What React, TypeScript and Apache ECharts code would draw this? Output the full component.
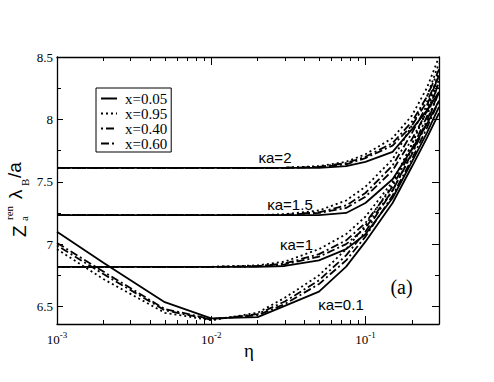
import React, { useEffect, useRef } from "react";
import * as echarts from "echarts";

// ---- data ----
const ETA = [0.001, 0.002, 0.005, 0.01, 0.02, 0.03, 0.05, 0.075, 0.1, 0.15, 0.2, 0.25, 0.3];

// κa = 0.1
const K01_X005 = [7.10, 6.85, 6.535, 6.405, 6.415, 6.505, 6.62, 6.82, 7.02, 7.33, 7.62, 7.85, 8.05];
const K01_X095 = [6.96, 6.72, 6.45, 6.39, 6.45, 6.57, 6.75, 6.96, 7.15, 7.48, 7.80, 8.07, 8.32];
const K01_X040 = [6.99, 6.76, 6.47, 6.395, 6.44, 6.54, 6.71, 6.91, 7.10, 7.43, 7.73, 7.99, 8.22];
const K01_X060 = [7.01, 6.78, 6.48, 6.40, 6.43, 6.52, 6.68, 6.87, 7.06, 7.39, 7.68, 7.93, 8.15];
// κa = 1
const K1_X005 = [6.818, 6.818, 6.818, 6.818, 6.818, 6.825, 6.87, 6.96, 7.08, 7.37, 7.66, 7.89, 8.10];
const K1_X095 = [6.818, 6.818, 6.818, 6.818, 6.83, 6.86, 6.96, 7.08, 7.22, 7.50, 7.80, 8.08, 8.38];
const K1_X040 = [6.818, 6.818, 6.818, 6.818, 6.824, 6.845, 6.92, 7.03, 7.17, 7.46, 7.76, 8.02, 8.30];
const K1_X060 = [6.818, 6.818, 6.818, 6.818, 6.822, 6.838, 6.90, 7.00, 7.13, 7.43, 7.72, 7.97, 8.22];
// κa = 1.5
const K15_X005 = [7.233, 7.233, 7.233, 7.233, 7.233, 7.233, 7.233, 7.25, 7.33, 7.52, 7.76, 7.96, 8.15];
const K15_X095 = [7.233, 7.233, 7.233, 7.233, 7.233, 7.24, 7.27, 7.35, 7.46, 7.68, 7.95, 8.18, 8.45];
const K15_X040 = [7.233, 7.233, 7.233, 7.233, 7.233, 7.236, 7.255, 7.31, 7.41, 7.63, 7.89, 8.11, 8.35];
const K15_X060 = [7.233, 7.233, 7.233, 7.233, 7.233, 7.235, 7.25, 7.29, 7.38, 7.59, 7.84, 8.06, 8.28];
// κa = 2
const K2_X005 = [7.612, 7.612, 7.612, 7.612, 7.612, 7.612, 7.612, 7.625, 7.66, 7.74, 7.92, 8.07, 8.22];
const K2_X095 = [7.612, 7.612, 7.612, 7.612, 7.612, 7.612, 7.625, 7.66, 7.72, 7.85, 8.03, 8.25, 8.50];
const K2_X040 = [7.612, 7.612, 7.612, 7.612, 7.612, 7.612, 7.62, 7.65, 7.70, 7.81, 7.98, 8.18, 8.40];
const K2_X060 = [7.612, 7.612, 7.612, 7.612, 7.612, 7.612, 7.618, 7.64, 7.69, 7.79, 7.95, 8.14, 8.35];

const X_NAMES = ["x=0.05", "x=0.95", "x=0.40", "x=0.60"];
const KA_LABELS = ["κa=2", "κa=1.5", "κa=1", "κa=0.1"];

const X_MAJOR = [0.001, 0.01, 0.1];
const X_MINOR = [0.002, 0.003, 0.004, 0.005, 0.006, 0.007, 0.008, 0.009, 0.02, 0.03, 0.04, 0.05, 0.06, 0.07, 0.08, 0.09, 0.2];
const Y_MAJOR = [6.5, 7, 7.5, 8, 8.5];
const Y_MINOR = [6.75, 7.25, 7.75, 8.25];

const SERIF = "Liberation Serif, DejaVu Serif, serif";
const SANS = "Liberation Sans, Arial, sans-serif";

const DASH: Record<string, any> = {
  "x=0.05": "solid",
  "x=0.95": [2, 3],
  "x=0.40": [2, 3, 8, 3],
  "x=0.60": [8, 3, 2, 3],
};

const FAMILIES: Array<[string, number[]][]> = [
  [["x=0.05", K01_X005], ["x=0.95", K01_X095], ["x=0.40", K01_X040], ["x=0.60", K01_X060]],
  [["x=0.05", K1_X005], ["x=0.95", K1_X095], ["x=0.40", K1_X040], ["x=0.60", K1_X060]],
  [["x=0.05", K15_X005], ["x=0.95", K15_X095], ["x=0.40", K15_X040], ["x=0.60", K15_X060]],
  [["x=0.05", K2_X005], ["x=0.95", K2_X095], ["x=0.40", K2_X040], ["x=0.60", K2_X060]],
];

function buildSeries() {
  const out: any[] = [];
  for (const fam of FAMILIES) {
    for (const [name, vals] of fam) {
      out.push({
        type: "line",
        name,
        xAxisIndex: 0,
        yAxisIndex: 0,
        symbol: "none",
        showSymbol: false,
        smooth: false,
        data: ETA.map((e, i) => [e, vals[i]]),
        lineStyle: { color: "#000", width: 1.8, type: DASH[name] },
        itemStyle: { color: "#000" },
      });
    }
  }
  return out;
}

function xAxisDef(position: "bottom" | "top", values: number[], len: number, showLine: boolean, showLabel: boolean) {
  return {
    type: "log",
    logBase: 10,
    min: 0.001,
    max: 0.3,
    position,
    axisLine: { show: showLine, onZero: false, lineStyle: { color: "#000", width: 1.3 } },
    axisTick: { show: true, inside: true, length: len, customValues: values, lineStyle: { color: "#000", width: 1 } },
    axisLabel: showLabel
      ? {
          show: true,
          customValues: values,
          margin: 6,
          fontFamily: SERIF,
          formatter: (v: number) => "{b|10}{sup|" + Math.round(Math.log10(v)) + "}",
          rich: {
            b: { fontFamily: SERIF, fontSize: 13, color: "#000", lineHeight: 13, padding: [6, 0, 0, 0] },
            sup: { fontFamily: SERIF, fontSize: 9, color: "#000", lineHeight: 9, verticalAlign: "top" },
          },
        }
      : { show: false },
    splitLine: { show: false },
    minorTick: { show: false },
    minorSplitLine: { show: false },
  };
}

function yAxisDef(position: "left" | "right", values: number[], len: number, showLine: boolean, showLabel: boolean) {
  return {
    type: "value",
    min: 6.36,
    max: 8.5,
    position,
    axisLine: { show: showLine, onZero: false, lineStyle: { color: "#000", width: 1.3 } },
    axisTick: { show: true, inside: true, length: len, customValues: values, lineStyle: { color: "#000", width: 1 } },
    axisLabel: showLabel
      ? {
          show: true,
          customValues: values,
          margin: 4,
          fontFamily: SERIF,
          fontSize: 13,
          color: "#000",
          formatter: (v: number) => String(v),
        }
      : { show: false },
    splitLine: { show: false },
    minorTick: { show: false },
    minorSplitLine: { show: false },
  };
}

export default function App() {
  const ref = useRef<HTMLDivElement>(null);
  useEffect(() => {
    if (!ref.current) return;
    const chart = echarts.init(ref.current, undefined, { renderer: "svg" });
    const ylabelFont = "19px " + SANS;
    const subFont = "11px " + SERIF;
    chart.setOption({
      animation: false,
      backgroundColor: "#fff",
      grid: { left: 57, right: 55, top: 57, bottom: 58, containLabel: false },
      legend: {
        show: true,
        orient: "vertical",
        left: 96,
        top: 88,
        data: X_NAMES,
        selectedMode: false,
        itemWidth: 16,
        itemHeight: 10,
        itemGap: 0,
        padding: [3, 4, 1, 4],
        borderColor: "#000",
        borderWidth: 1,
        itemStyle: { color: "rgba(0,0,0,0)", borderColor: "rgba(0,0,0,0)", borderWidth: 0, opacity: 0 },
        textStyle: { fontFamily: SERIF, fontSize: 15, color: "#000", lineHeight: 15, padding: [0, 0, 0, 3] },
      },
      xAxis: [
        xAxisDef("bottom", X_MAJOR, 8, true, true),
        xAxisDef("bottom", X_MINOR, 4, false, false),
        xAxisDef("top", X_MAJOR, 8, true, false),
        xAxisDef("top", X_MINOR, 4, false, false),
      ],
      yAxis: [
        yAxisDef("left", Y_MAJOR, 6, true, true),
        yAxisDef("left", Y_MINOR, 4, false, false),
        yAxisDef("right", Y_MAJOR, 7, true, false),
        yAxisDef("right", Y_MINOR, 4, false, false),
      ],
      series: buildSeries(),
      graphic: [
        {
          type: "group",
          x: 26,
          y: 237,
          rotation: Math.PI / 2,
          children: [
            { type: "text", x: 0, y: -6.5, style: { text: "Z", font: ylabelFont, fill: "#000", align: "left", verticalAlign: "middle" } },
            { type: "text", x: 17, y: -17.5, style: { text: "ren", font: subFont, fill: "#000", align: "left", verticalAlign: "middle" } },
            { type: "text", x: 16, y: -2, style: { text: "a", font: subFont, fill: "#000", align: "left", verticalAlign: "middle" } },
            { type: "text", x: 38, y: -11, style: { text: "λ", font: ylabelFont, fill: "#000", align: "left", verticalAlign: "middle" } },
            { type: "text", x: 51, y: -1.5, style: { text: "B", font: subFont, fill: "#000", align: "left", verticalAlign: "middle" } },
            { type: "text", x: 59, y: -12, style: { text: "/a", font: ylabelFont, fill: "#000", align: "left", verticalAlign: "middle" } },
          ],
        },
        { type: "text", x: 249, y: 350, style: { text: "η", font: "19px " + SERIF, fill: "#000", align: "center", verticalAlign: "middle" } },
        { type: "text", x: 275, y: 157.5, style: { text: KA_LABELS[0], font: "15px " + SANS, fill: "#000", align: "center", verticalAlign: "middle" } },
        { type: "text", x: 290, y: 204, style: { text: KA_LABELS[1], font: "15px " + SANS, fill: "#000", align: "center", verticalAlign: "middle" } },
        { type: "text", x: 296.5, y: 244, style: { text: KA_LABELS[2], font: "15px " + SANS, fill: "#000", align: "center", verticalAlign: "middle" } },
        { type: "text", x: 341, y: 304, style: { text: KA_LABELS[3], font: "15px " + SANS, fill: "#000", align: "center", verticalAlign: "middle" } },
        { type: "text", x: 401.5, y: 287, style: { text: "(a)", font: "20px " + SERIF, fill: "#000", align: "center", verticalAlign: "middle" } },
      ],
    });
    return () => chart.dispose();
  }, []);
  return (
    <div
      ref={ref}
      style={{ position: "fixed", left: 0, top: 0, width: 494, height: 382, background: "#fff" }}
    />
  );
}
